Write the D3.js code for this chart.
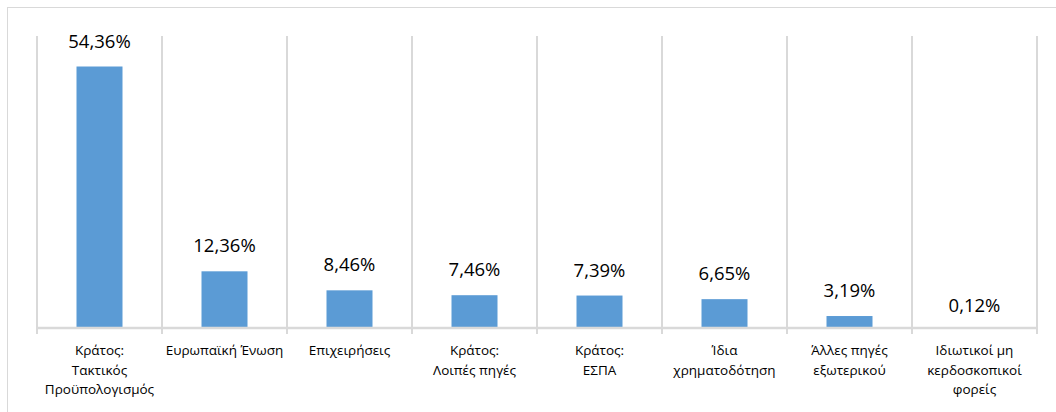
<!DOCTYPE html>
<html><head><meta charset="utf-8">
<script src="https://cdn.jsdelivr.net/npm/d3@7"></script>
<style>body{margin:0;background:#fff;} svg{display:block;}</style>
</head><body>
<svg id="c" width="1056" height="412"></svg>
<script>
const categories = [
  ["Κράτος:", "Τακτικός", "Προϋπολογισμός"],
  ["Ευρωπαϊκή Ένωση"],
  ["Επιχειρήσεις"],
  ["Κράτος:", "Λοιπές πηγές"],
  ["Κράτος:", "ΕΣΠΑ"],
  ["Ίδια", "χρηματοδότηση"],
  ["Άλλες πηγές", "εξωτερικού"],
  ["Ιδιωτικοί μη", "κερδοσκοπικοί", "φορείς"]
];
const values = [54.36, 12.36, 8.46, 7.46, 7.39, 6.65, 3.19, 0.12];
const valueLabels = ["54,36%", "12,36%", "8,46%", "7,46%", "7,39%", "6,65%", "3,19%", "0,12%"];

const svg = d3.select("#c");
const font = "'Open Sans', 'Liberation Sans', sans-serif";
const plotLeft = 37, plotRight = 1037, plotTop = 36, base = 327;

svg.append("rect").attr("x", 7.5).attr("y", 7.5).attr("width", 1060).attr("height", 420)
  .attr("fill", "none").attr("stroke", "#d9d9d9").attr("stroke-width", 1);

const x = d3.scaleBand().domain(d3.range(categories.length)).range([plotLeft, plotRight]).paddingInner(0).paddingOuter(0);
const y = d3.scaleLinear().domain([0.94, 60]).range([base, 39]);

// vertical gridlines (category separators)
const edges = d3.range(categories.length + 1).map(i => plotLeft + i * x.bandwidth());
svg.append("g").selectAll("line").data(edges).join("line")
  .attr("x1", d => d).attr("x2", d => d).attr("y1", plotTop).attr("y2", base + 7)
  .attr("stroke", "#d9d9d9").attr("stroke-width", 2);

// bars
const bw = 46;
svg.append("g").selectAll("rect").data(values).join("rect")
  .attr("x", (d, i) => x(i) + x.bandwidth() / 2 - bw / 2)
  .attr("width", bw)
  .attr("y", d => Math.min(y(d), base))
  .attr("height", d => Math.max(0, base - y(d)))
  .attr("fill", "#5b9bd5");

// baseline
svg.append("line").attr("x1", plotLeft).attr("x2", plotRight).attr("y1", base + 1).attr("y2", base + 1)
  .attr("stroke", "#d9d9d9").attr("stroke-width", 2.5);

// value labels
svg.append("g").selectAll("text").data(values).join("text")
  .attr("x", (d, i) => x(i) + x.bandwidth() / 2)
  .attr("y", d => y(d) - 19)
  .attr("text-anchor", "middle")
  .attr("font-family", font).attr("font-size", 18.5).attr("fill", "#000")
  .text((d, i) => valueLabels[i]);

// category labels
const cg = svg.append("g");
categories.forEach((lines, i) => {
  const t = cg.append("text").attr("text-anchor", "middle")
    .attr("font-family", font).attr("font-size", 13.5).attr("fill", "#000");
  lines.forEach((ln, j) => {
    t.append("tspan").attr("x", x(i) + x.bandwidth() / 2).attr("y", 355 + j * 19.5).text(ln);
  });
});
</script>
</body></html>
